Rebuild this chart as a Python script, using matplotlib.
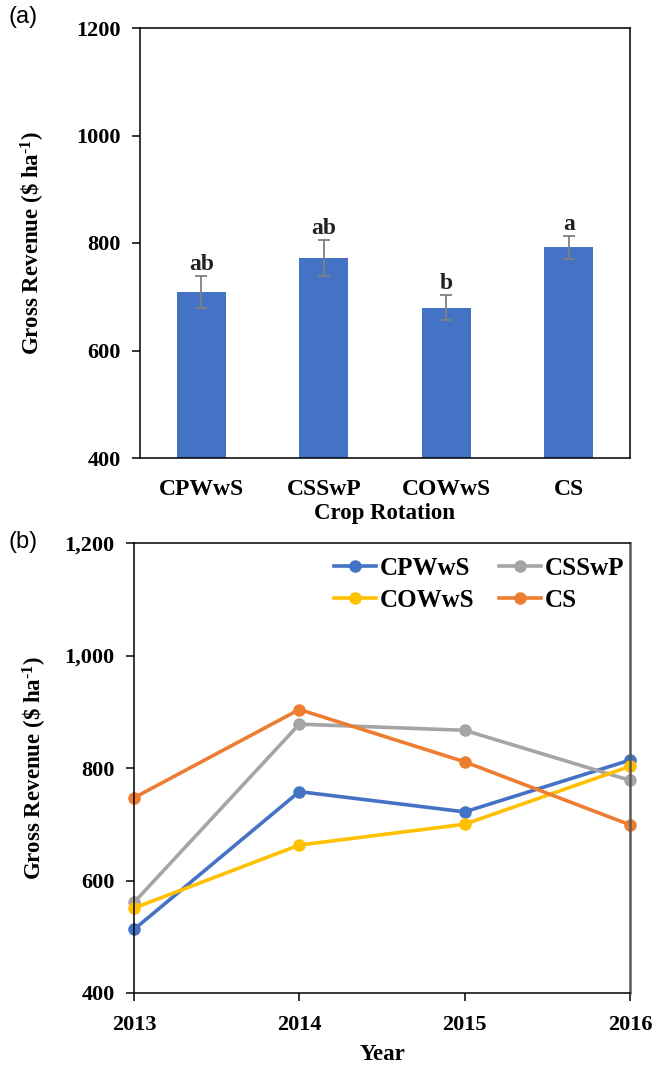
import matplotlib
matplotlib.use("Agg")
import matplotlib.pyplot as plt
from matplotlib.ticker import FuncFormatter

# Panel (a): mean gross revenue by rotation
rotations = ["CPWwS", "CSSwP", "COWwS", "CS"]
revenue_mean = [709, 772, 680, 792]
revenue_se = [30, 33, 23, 21]
letters = ["ab", "ab", "b", "a"]

# Panel (b): gross revenue by year
years = [2013, 2014, 2015, 2016]
rev_cpwws = [513, 758, 722, 814]
rev_csswp = [561, 878, 867, 778]
rev_cowws = [551, 663, 700, 803]
rev_cs = [747, 904, 811, 699]

serif = "Liberation Serif"
blue = "#4472C4"
gray = "#A5A5A5"
yellow = "#FFC000"
orange = "#ED7D31"

plt.rcParams["mathtext.fontset"] = "custom"
plt.rcParams["mathtext.rm"] = "Liberation Serif:bold"
plt.rcParams["mathtext.bf"] = "Liberation Serif:bold"
plt.rcParams["mathtext.default"] = "bf"

YLABEL = "Gross Revenue (\\$ ha$^{\u20101}$)"
FS = 16.5


def style_axes(ax):
    for s in ax.spines.values():
        s.set_linewidth(1.1)
        s.set_color("black")
    ax.tick_params(axis="both", labelsize=16, width=1.1, length=6, direction="out")
    for lab in ax.get_xticklabels() + ax.get_yticklabels():
        lab.set_fontfamily(serif)
        lab.set_fontweight("bold")


def main():
    fig = plt.figure(figsize=(6.6, 10.67), dpi=100)

    # ---- panel (a)
    ax1 = fig.add_axes([140 / 660, 1 - 458 / 1067, 490 / 660, 430 / 1067])
    xs = range(len(rotations))
    ax1.bar(xs, revenue_mean, width=0.4, color=blue, zorder=2)
    ax1.errorbar(xs, revenue_mean, yerr=revenue_se, fmt="none", ecolor="#7F7F7F",
                 elinewidth=1.3, capsize=4, capthick=1.3, zorder=3)
    for x, m, e, t in zip(xs, revenue_mean, revenue_se, letters):
        ax1.text(x, m + e + 2, t, ha="center", va="bottom", fontsize=17,
                 fontweight="bold", family=serif, color="#222222")
    ax1.set_xlim(-0.5, 3.5)
    ax1.set_ylim(400, 1200)
    ax1.set_yticks([400, 600, 800, 1000, 1200])
    ax1.set_xticks(list(xs))
    ax1.set_xticklabels(rotations)
    style_axes(ax1)
    ax1.tick_params(axis="y", pad=8)
    ax1.tick_params(axis="x", length=0, pad=15, labelsize=17)
    ax1.set_xlabel("Crop Rotation", fontsize=FS, fontweight="bold", family=serif, labelpad=2)
    ax1.set_ylabel(YLABEL, fontsize=FS, fontweight="bold", family=serif, labelpad=21)
    fig.text(8 / 660, 1 - 17 / 1067, "(a)", fontsize=17, family="Liberation Sans",
             va="center", ha="left")

    # ---- panel (b)
    ax2 = fig.add_axes([134 / 660, 1 - 993 / 1067, 496 / 660, 450 / 1067])
    ax2.plot(years, rev_cpwws, color=blue, lw=2.6, marker="o", ms=8, label="CPWwS", clip_on=False)
    ax2.plot(years, rev_csswp, color=gray, lw=2.6, marker="o", ms=8, label="CSSwP", clip_on=False)
    ax2.plot(years, rev_cowws, color=yellow, lw=2.6, marker="o", ms=8, label="COWwS", clip_on=False)
    ax2.plot(years, rev_cs, color=orange, lw=2.6, marker="o", ms=8, label="CS", clip_on=False)
    ax2.set_xlim(2013, 2016)
    ax2.set_ylim(400, 1200)
    ax2.set_xticks(years)
    ax2.set_yticks([400, 600, 800, 1000, 1200])
    ax2.yaxis.set_major_formatter(FuncFormatter(lambda v, p: f"{int(v):,}"))
    style_axes(ax2)
    ax2.spines["right"].set_color("#595959")
    ax2.spines["right"].set_linewidth(1.8)
    ax2.tick_params(axis="y", pad=8)
    ax2.tick_params(axis="x", length=6, pad=10)
    ax2.set_xlabel("Year", fontsize=FS, fontweight="bold", family=serif, labelpad=6)
    ax2.set_ylabel(YLABEL, fontsize=FS, fontweight="bold", family=serif, labelpad=11)

    h, l = ax2.get_legend_handles_labels()
    order = [0, 2, 1, 3]
    ax2.legend([h[i] for i in order], [l[i] for i in order], ncol=2, loc="upper right",
               bbox_to_anchor=(1.008, 0.991),
               frameon=False, prop={"family": serif, "weight": "bold", "size": 18},
               handlelength=1.7, handletextpad=0.12, columnspacing=1.0,
               labelspacing=0.35, borderaxespad=0.0)
    fig.text(8 / 660, 1 - 542 / 1067, "(b)", fontsize=17, family="Liberation Sans",
             va="center", ha="left")

    fig.savefig("out.png", dpi=100)


main()
